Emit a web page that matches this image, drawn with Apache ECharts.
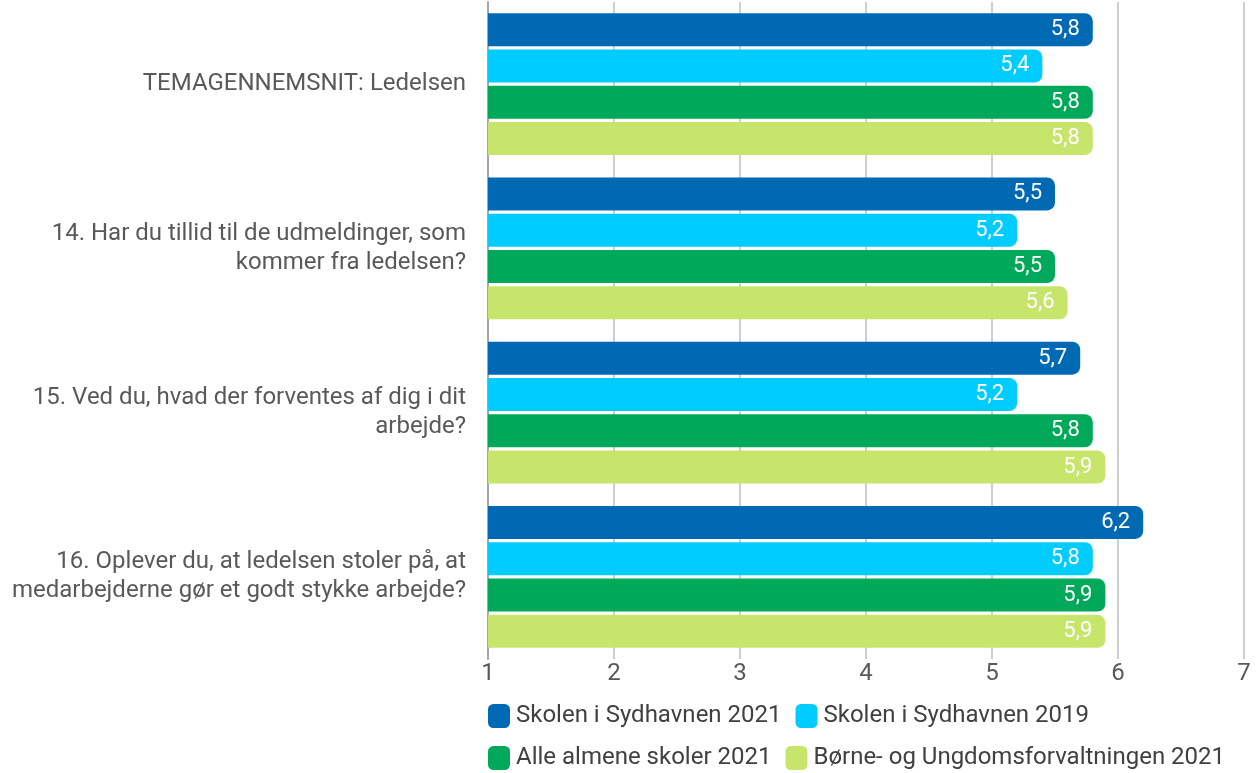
<!DOCTYPE html>
<html><head><meta charset="utf-8">
<script src="https://cdn.jsdelivr.net/npm/echarts@6/dist/echarts.min.js"></script>
<style>html,body{margin:0;padding:0;background:#fff}#c{width:1258px;height:773px}</style>
</head><body><div id="c"></div>
<script>
const categories = [
  'TEMAGENNEMSNIT: Ledelsen',
  '14. Har du tillid til de udmeldinger, som\nkommer fra ledelsen?',
  '15. Ved du, hvad der forventes af dig i dit\narbejde?',
  '16. Oplever du, at ledelsen stoler på, at\nmedarbejderne gør et godt stykke arbejde?'
];
const seriesNames = ['Skolen i Sydhavnen 2021', 'Skolen i Sydhavnen 2019', 'Alle almene skoler 2021', 'Børne- og Ungdomsforvaltningen 2021'];
const skolen2021 = [5.8, 5.5, 5.7, 6.2];
const skolen2019 = [5.4, 5.2, 5.2, 5.8];
const almene2021 = [5.8, 5.5, 5.8, 5.9];
const buf2021 = [5.8, 5.6, 5.9, 5.9];
const xTicks = [1, 2, 3, 4, 5, 6, 7];

const colors = ['#0069b4', '#00ccff', '#00a859', '#c8e56b'];
const values = [skolen2021, skolen2019, almene2021, buf2021];
const font = 'Roboto, "Noto Sans", sans-serif';

const chart = echarts.init(document.getElementById('c'));
chart.setOption({
  animation: false,
  textStyle: { fontFamily: font },
  grid: { left: 488, right: 14, top: 2, height: 657 },
  xAxis: {
    type: 'value', min: xTicks[0], max: xTicks[xTicks.length - 1], interval: 1,
    axisLine: { show: false }, axisTick: { show: false },
    axisLabel: { color: '#595959', fontSize: 24, margin: 3, fontFamily: font },
    splitLine: { lineStyle: { color: '#bfbfbf', width: 1.5 } }
  },
  yAxis: {
    type: 'category', data: categories, inverse: true,
    axisLine: { show: true, lineStyle: { color: '#a6a6a6', width: 2 } },
    axisTick: { show: false },
    axisLabel: { color: '#595959', fontSize: 24, lineHeight: 29, margin: 22, align: 'right', fontFamily: font }
  },
  legend: {
    left: 488, bottom: 1, width: 760, padding: 0,
    itemWidth: 22, itemHeight: 24, itemGap: 14,
    icon: 'roundRect',
    textStyle: { color: '#404040', fontSize: 24, lineHeight: 28, fontFamily: font, padding: [0, 0, 0, 1] },
    data: seriesNames
  },
  series: seriesNames.map((n, i) => ({
    name: n, type: 'bar', data: values[i],
    barWidth: 33, barGap: '10%',
    itemStyle: { color: colors[i], borderRadius: [0, 8, 8, 0] },
    label: {
      show: true, position: 'insideRight', color: '#fff', fontSize: 22, fontFamily: font, distance: 13,
      formatter: p => p.value.toFixed(1).replace('.', ',')
    }
  }))
});
</script></body></html>
